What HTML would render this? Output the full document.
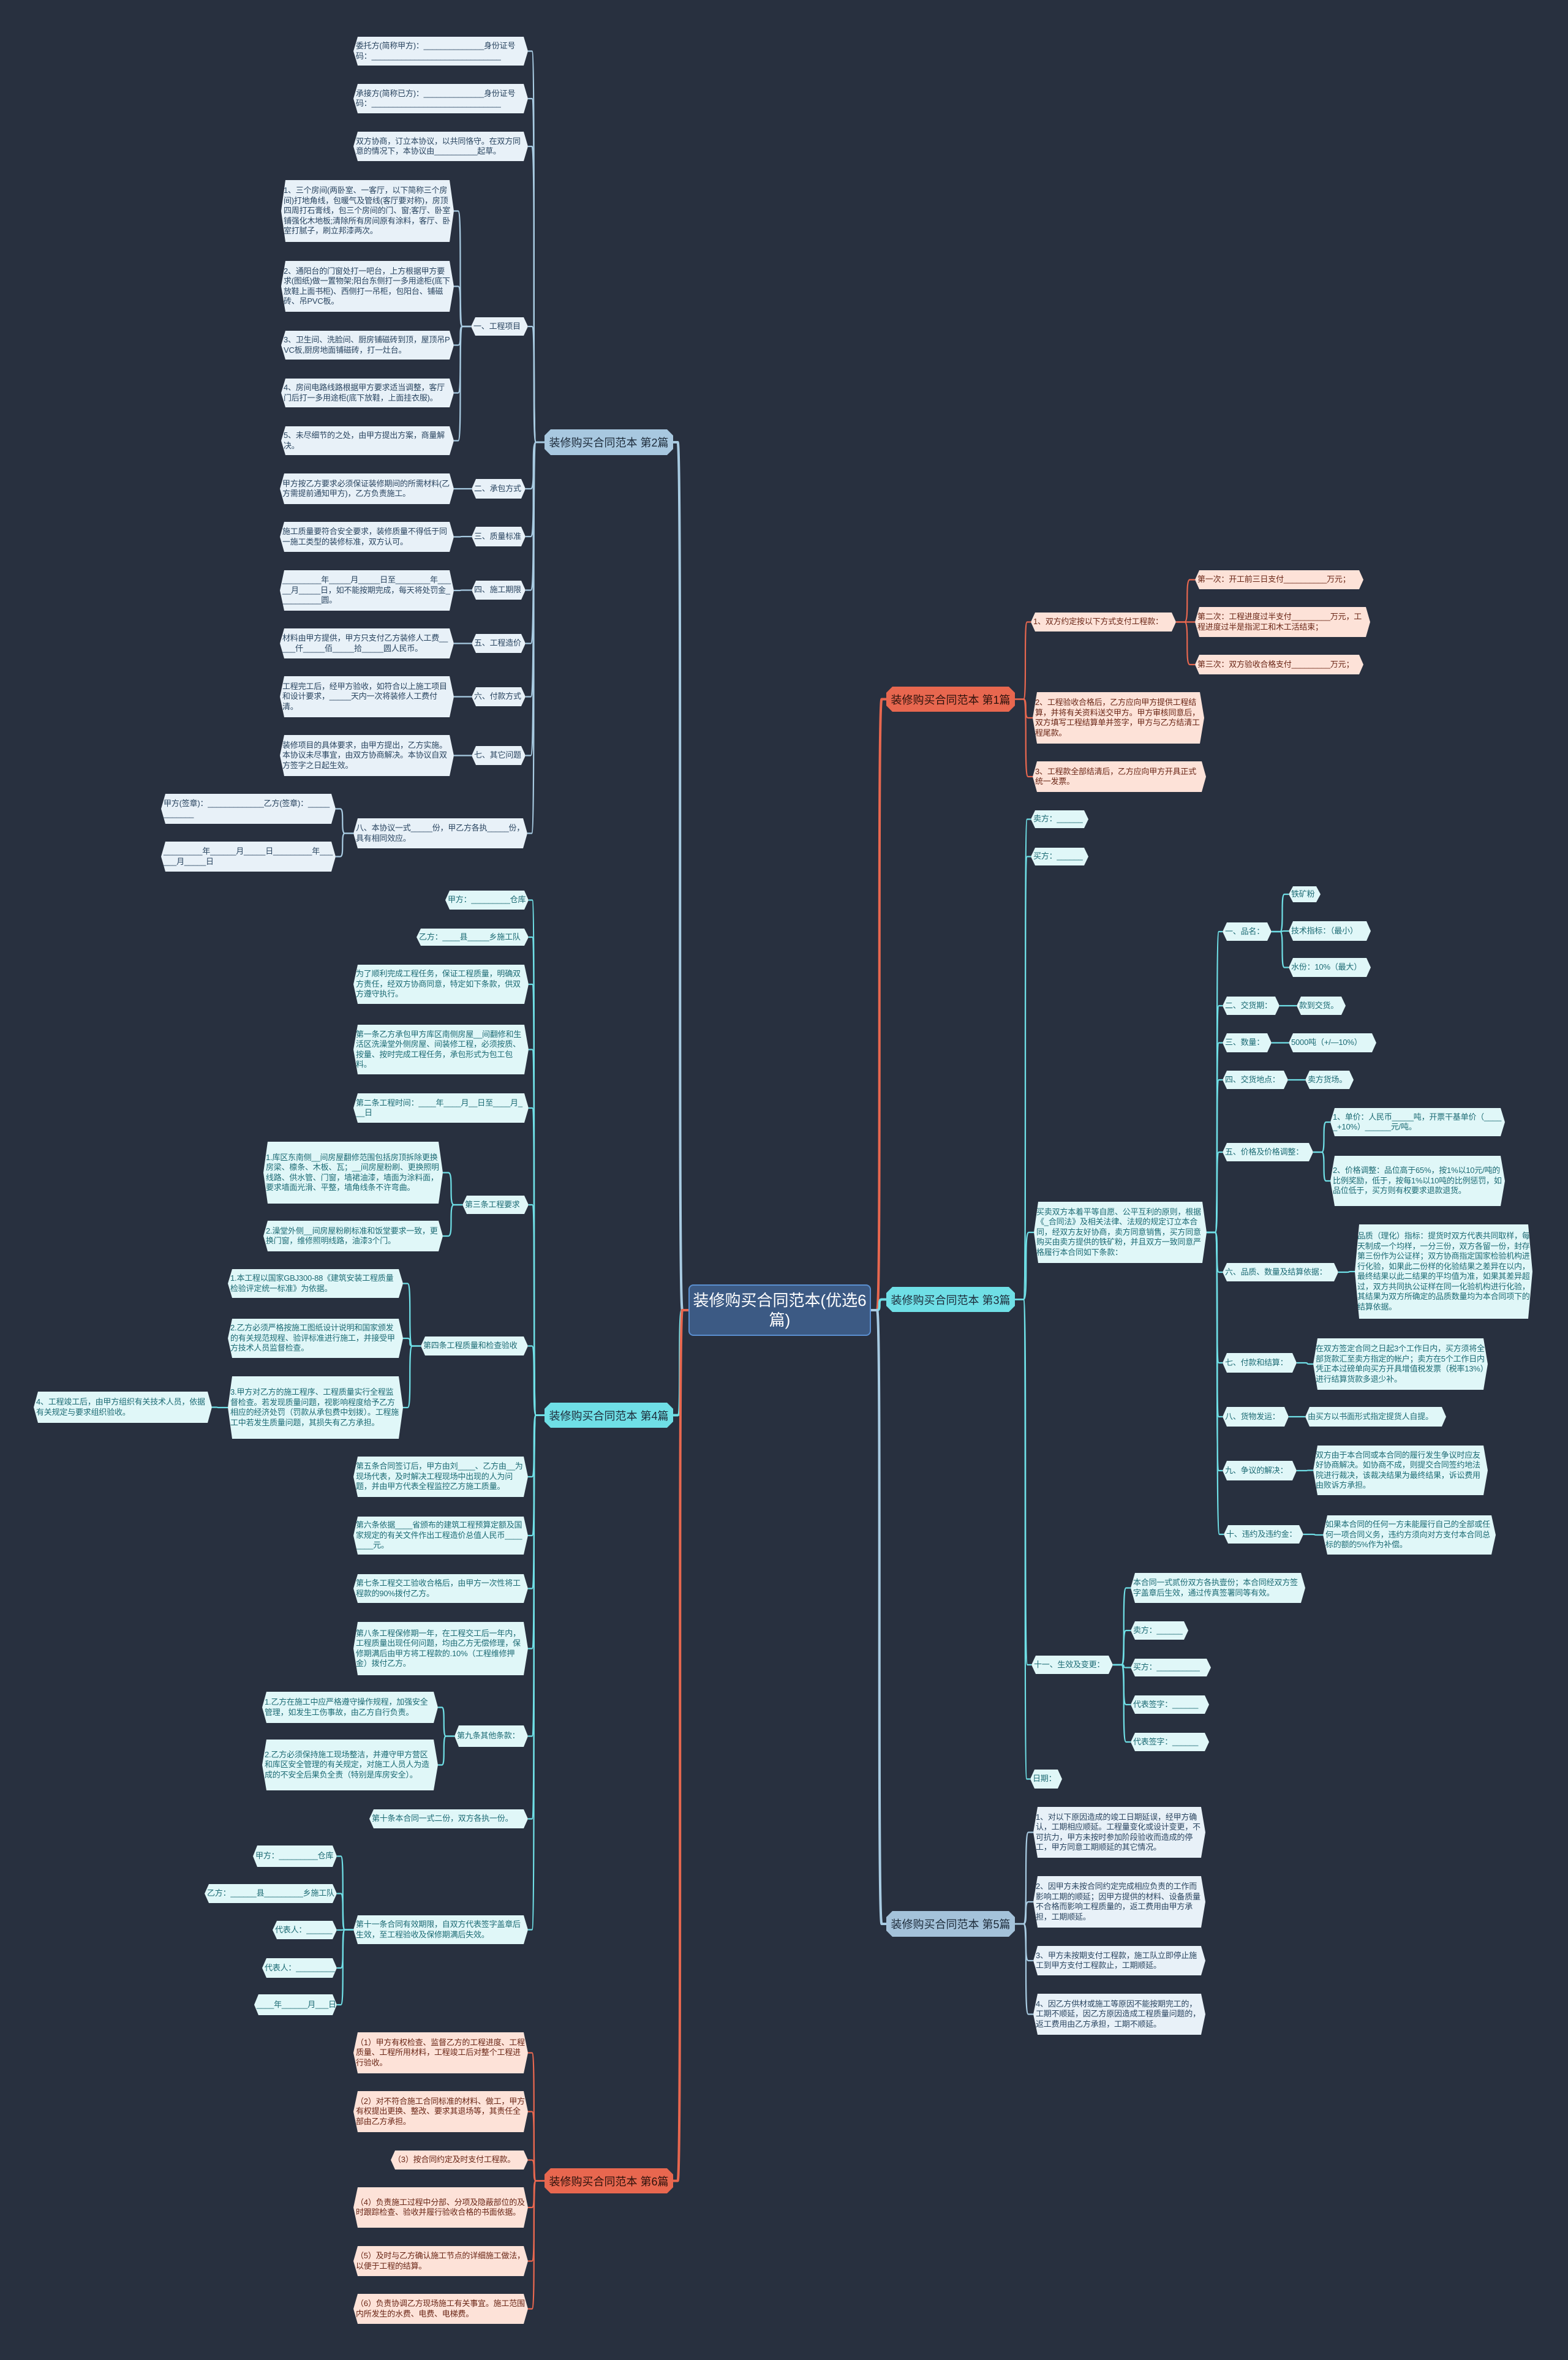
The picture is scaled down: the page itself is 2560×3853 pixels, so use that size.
<!DOCTYPE html>
<html><head><meta charset="utf-8">
<style>
html,body{margin:0;padding:0;}
body{width:2560px;height:3853px;background:#28303f;position:relative;overflow:hidden;font-family:"Liberation Sans","Noto Sans CJK SC",sans-serif;}
svg#lines{position:absolute;left:0;top:0;}
.n{position:absolute;box-sizing:border-box;display:flex;align-items:center;padding:0 4px;font-size:13px;line-height:16.5px;letter-spacing:-0.2px;word-break:break-all;
clip-path:polygon(7px 0,calc(100% - 7px) 0,100% 50%,calc(100% - 7px) 100%,7px 100%,0 50%);}
.cb{background:#e8f1f8;color:#2a4560;}
.cc{background:#e0f7f8;color:#1d6b74;}
.cr{background:#fde2d8;color:#6a2616;}
.br{position:absolute;box-sizing:border-box;display:flex;align-items:center;justify-content:center;font-size:18px;color:#1d2b3a;white-space:nowrap;
clip-path:polygon(10px 0,calc(100% - 10px) 0,100% 10px,100% calc(100% - 10px),calc(100% - 10px) 100%,10px 100%,0 calc(100% - 10px),0 10px);}
.bB{background:#a8c8e0;}
.bC{background:#6fdfe6;}
.bR{background:#e8674f;color:#2d120c;}
.bP{background:#a4c2da;}
#center{position:absolute;left:1124px;top:2097px;width:298px;height:84px;background:#3c5a84;border:2px solid #5a8fd0;box-sizing:border-box;color:#fff;font-size:26px;line-height:32px;text-align:center;display:flex;align-items:center;justify-content:center;border-radius:8px;}
</style></head><body>
<svg id="lines" width="2560" height="3853"></svg>

<div id="center">装修购买合同范本(优选6<br>篇)</div>

<div class="br bR" id="b1" style="left:1447px;top:1121px;width:210px;height:41px;">装修购买合同范本 第1篇</div>
<div class="br bB" id="b2" style="left:889px;top:701px;width:210px;height:42px;">装修购买合同范本 第2篇</div>
<div class="br bC" id="b3" style="left:1447px;top:2101px;width:210px;height:41px;">装修购买合同范本 第3篇</div>
<div class="br bC" id="b4" style="left:889px;top:2290px;width:210px;height:41px;">装修购买合同范本 第4篇</div>
<div class="br bP" id="b5" style="left:1447px;top:3120px;width:210px;height:42px;">装修购买合同范本 第5篇</div>
<div class="br bR" id="b6" style="left:889px;top:3540px;width:210px;height:41px;">装修购买合同范本 第6篇</div>

<div class="n cr" id="m1" style="left:1683px;top:1000px;width:237px;height:31px;">1、双方约定按以下方式支付工程款：</div>
<div class="n cr" id="p1" style="left:1951px;top:931px;width:275px;height:31px;">第一次：开工前三日支付__________万元；</div>
<div class="n cr" id="p2" style="left:1951px;top:991px;width:286px;height:49px;">第二次：工程进度过半支付_________万元，工程进度过半是指泥工和木工活结束；</div>
<div class="n cr" id="p3" style="left:1951px;top:1069px;width:275px;height:32px;">第三次：双方验收合格支付_________万元；</div>
<div class="n cr" id="m2" style="left:1686px;top:1130px;width:280px;height:84px;">2、工程验收合格后，乙方应向甲方提供工程结算，并将有关资料送交甲方。甲方审核同意后，双方填写工程结算单并签字，甲方与乙方结清工程尾款。</div>
<div class="n cr" id="m3" style="left:1686px;top:1243px;width:283px;height:50px;">3、工程款全部结清后，乙方应向甲方开具正式统一发票。</div>

<div class="n cb" id="a1" style="left:577px;top:60px;width:285px;height:47px;">委托方(简称甲方)：______________身份证号码：______________________________</div>
<div class="n cb" id="a2" style="left:577px;top:137px;width:285px;height:48px;">承接方(简称已方)：______________身份证号码：______________________________</div>
<div class="n cb" id="a3" style="left:577px;top:215px;width:285px;height:48px;">双方协商，订立本协议，以共同恪守。在双方同意的情况下，本协议由__________起草。</div>
<div class="n cb" id="a4" style="left:769px;top:518px;width:93px;height:30px;">一、工程项目</div>
<div class="n cb" id="d1" style="left:459px;top:294px;width:282px;height:101px;">1、三个房间(两卧室、一客厅，以下简称三个房间)打地角线，包暖气及管线(客厅要对称)，房顶四周打石膏线，包三个房间的门、窗;客厅、卧室铺强化木地板;清除所有房间原有涂料，客厅、卧室打腻子，刷立邦漆两次。</div>
<div class="n cb" id="d2" style="left:459px;top:426px;width:282px;height:83px;">2、通阳台的门窗处打一吧台，上方根据甲方要求(图纸)做一置物架;阳台东侧打一多用途柜(底下放鞋上面书柜)、西侧打一吊柜，包阳台、铺磁砖、吊PVC板。</div>
<div class="n cb" id="d3" style="left:459px;top:540px;width:282px;height:47px;">3、卫生间、洗脸间、厨房铺磁砖到顶，屋顶吊PVC板,厨房地面铺磁砖，打一灶台。</div>
<div class="n cb" id="d4" style="left:459px;top:618px;width:282px;height:47px;">4、房间电路线路根据甲方要求适当调整，客厅门后打一多用途柜(底下放鞋，上面挂衣服)。</div>
<div class="n cb" id="d5" style="left:459px;top:696px;width:282px;height:47px;">5、未尽细节的之处，由甲方提出方案，商量解决。</div>
<div class="n cb" id="a5" style="left:770px;top:782px;width:88px;height:32px;">二、承包方式</div>
<div class="n cb" id="e1" style="left:457px;top:773px;width:284px;height:50px;">甲方按乙方要求必须保证装修期间的所需材料(乙方需提前通知甲方)，乙方负责施工。</div>
<div class="n cb" id="a6" style="left:770px;top:860px;width:88px;height:32px;">三、质量标准</div>
<div class="n cb" id="f1" style="left:457px;top:852px;width:284px;height:49px;">施工质量要符合安全要求，装修质量不得低于同一施工类型的装修标准，双方认可。</div>
<div class="n cb" id="a7" style="left:770px;top:948px;width:88px;height:31px;">四、施工期限</div>
<div class="n cb" id="g1" style="left:457px;top:931px;width:284px;height:66px;">_________年_____月_____日至________年_____月_____日，如不能按期完成，每天将处罚金__________圆。</div>
<div class="n cb" id="a8" style="left:770px;top:1035px;width:88px;height:31px;">五、工程造价</div>
<div class="n cb" id="h1" style="left:457px;top:1026px;width:284px;height:49px;">材料由甲方提供，甲方只支付乙方装修人工费_____仟_____佰_____拾_____圆人民币。</div>
<div class="n cb" id="a9" style="left:770px;top:1122px;width:88px;height:31px;">六、付款方式</div>
<div class="n cb" id="i1" style="left:457px;top:1104px;width:284px;height:67px;">工程完工后，经甲方验收，如符合以上施工项目和设计要求，_____天内一次将装修人工费付清。</div>
<div class="n cb" id="a10" style="left:770px;top:1218px;width:88px;height:31px;">七、其它问题</div>
<div class="n cb" id="j1" style="left:457px;top:1200px;width:284px;height:67px;">装修项目的具体要求，由甲方提出，乙方实施。本协议未尽事宜，由双方协商解决。本协议自双方签字之日起生效。</div>
<div class="n cb" id="a11" style="left:577px;top:1336px;width:284px;height:49px;">八、本协议一式_____份，甲乙方各执_____份，具有相同效应。</div>
<div class="n cb" id="k1" style="left:263px;top:1296px;width:285px;height:49px;">甲方(签章)：_____________乙方(签章)：____________</div>
<div class="n cb" id="k2" style="left:263px;top:1374px;width:285px;height:49px;">_________年______月_____日_________年______月_____日</div>

<div class="n cc" id="s1" style="left:1683px;top:1323px;width:94px;height:29px;">卖方：______</div>
<div class="n cc" id="s2" style="left:1683px;top:1384px;width:94px;height:29px;">买方：______</div>
<div class="n cc" id="intro" style="left:1688px;top:1962px;width:282px;height:100px;">买卖双方本着平等自愿、公平互利的原则，根据《_合同法》及相关法律、法规的规定订立本合同，经双方友好协商，卖方同意销售，买方同意购买由卖方提供的铁矿粉，并且双方一致同意严格履行本合同如下条款：</div>
<div class="n cc" id="q1" style="left:1996px;top:1506px;width:80px;height:30px;">一、品名：</div>
<div class="n cc" id="q1a" style="left:2104px;top:1447px;width:52px;height:26px;">铁矿粉</div>
<div class="n cc" id="q1b" style="left:2104px;top:1504px;width:134px;height:32px;">技术指标：（最小）</div>
<div class="n cc" id="q1c" style="left:2104px;top:1564px;width:134px;height:31px;">水份：10%（最大）</div>
<div class="n cc" id="q2" style="left:1996px;top:1627px;width:93px;height:30px;">二、交货期：</div>
<div class="n cc" id="q2a" style="left:2117px;top:1627px;width:80px;height:30px;">款到交货。</div>
<div class="n cc" id="q3" style="left:1996px;top:1687px;width:80px;height:31px;">三、数量：</div>
<div class="n cc" id="q3a" style="left:2104px;top:1687px;width:143px;height:31px;">5000吨（+/—10%）</div>
<div class="n cc" id="q4" style="left:1996px;top:1748px;width:107px;height:30px;">四、交货地点：</div>
<div class="n cc" id="q4a" style="left:2131px;top:1748px;width:79px;height:30px;">卖方货场。</div>
<div class="n cc" id="q5" style="left:1996px;top:1866px;width:148px;height:30px;">五、价格及价格调整：</div>
<div class="n cc" id="q5a" style="left:2172px;top:1809px;width:285px;height:46px;">1、单价：人民币_____吨，开票干基单价（_____+10%）______元/吨。</div>
<div class="n cc" id="q5b" style="left:2172px;top:1887px;width:285px;height:82px;">2、价格调整：品位高于65%，按1%以10元/吨的比例奖励，低于，按每1%以10吨的比例惩罚，如品位低于，买方则有权要求退款退货。</div>
<div class="n cc" id="q6" style="left:1996px;top:2062px;width:189px;height:30px;">六、品质、数量及结算依据：</div>
<div class="n cc" id="q6a" style="left:2212px;top:1999px;width:290px;height:154px;">品质（理化）指标：提货时双方代表共同取样，每天制成一个均样，一分三份，双方各留一份，封存第三份作为公证样；双方协商指定国家检验机构进行化验，如果此二份样的化验结果之差异在以内，最终结果以此二结果的平均值为准，如果其差异超过，双方共同执公证样在同一化验机构进行化验，其结果为双方所确定的品质数量均为本合同项下的结算依据。</div>
<div class="n cc" id="q7" style="left:1996px;top:2209px;width:121px;height:32px;">七、付款和结算：</div>
<div class="n cc" id="q7a" style="left:2144px;top:2185px;width:285px;height:84px;">在双方签定合同之日起3个工作日内，买方须将全部货款汇至卖方指定的帐户；卖方在5个工作日内凭正本过磅单向买方开具增值税发票（税率13%）进行结算货款多退少补。</div>
<div class="n cc" id="q8" style="left:1996px;top:2297px;width:108px;height:32px;">八、货物发运：</div>
<div class="n cc" id="q8a" style="left:2131px;top:2297px;width:230px;height:32px;">由买方以书面形式指定提货人自提。</div>
<div class="n cc" id="q9" style="left:1996px;top:2385px;width:121px;height:32px;">九、争议的解决：</div>
<div class="n cc" id="q9a" style="left:2144px;top:2360px;width:285px;height:81px;">双方由于本合同或本合同的履行发生争议时应友好协商解决。如协商不成，则提交合同签约地法院进行裁决，该裁决结果为最终结果，诉讼费用由败诉方承担。</div>
<div class="n cc" id="q10" style="left:1998px;top:2490px;width:130px;height:30px;">十、违约及违约金：</div>
<div class="n cc" id="q10a" style="left:2160px;top:2474px;width:282px;height:64px;">如果本合同的任何一方未能履行自己的全部或任何一项合同义务，违约方须向对方支付本合同总标的额的5%作为补偿。</div>
<div class="n cc" id="s11" style="left:1684px;top:2703px;width:133px;height:30px;">十一、生效及变更：</div>
<div class="n cc" id="s11a" style="left:1846px;top:2568px;width:285px;height:49px;">本合同一式贰份双方各执壹份；本合同经双方签字盖章后生效，通过传真签署同等有效。</div>
<div class="n cc" id="s11b" style="left:1846px;top:2647px;width:94px;height:30px;">卖方：______</div>
<div class="n cc" id="s11c" style="left:1846px;top:2708px;width:131px;height:29px;">买方：__________</div>
<div class="n cc" id="s11d" style="left:1846px;top:2768px;width:128px;height:30px;">代表签字：______</div>
<div class="n cc" id="s11e" style="left:1846px;top:2829px;width:128px;height:30px;">代表签字：______</div>
<div class="n cc" id="s12" style="left:1682px;top:2889px;width:52px;height:31px;">日期：</div>

<div class="n cc" id="t1" style="left:727px;top:1454px;width:136px;height:31px;">甲方：_________仓库</div>
<div class="n cc" id="t2" style="left:680px;top:1516px;width:183px;height:28px;">乙方：____县_____乡施工队</div>
<div class="n cc" id="t3" style="left:577px;top:1575px;width:286px;height:64px;">为了顺利完成工程任务，保证工程质量，明确双方责任，经双方协商同意，特定如下条款，供双方遵守执行。</div>
<div class="n cc" id="t4" style="left:577px;top:1673px;width:286px;height:81px;">第一条乙方承包甲方库区南侧房屋__间翻修和生活区洗澡堂外侧房屋、间装修工程，必须按质、按量、按时完成工程任务，承包形式为包工包料。</div>
<div class="n cc" id="t5" style="left:577px;top:1785px;width:286px;height:48px;">第二条工程时间：____年____月__日至____月___日</div>
<div class="n cc" id="t6" style="left:755px;top:1952px;width:108px;height:30px;">第三条工程要求</div>
<div class="n cc" id="t6a" style="left:430px;top:1864px;width:293px;height:101px;">1.库区东南侧__间房屋翻修范围包括房顶拆除更换房梁、檩条、木板、瓦；__间房屋粉刷、更换照明线路、供水管、门窗，墙裙油漆，墙面为涂料面，要求墙面光滑、平整，墙角线条不许弯曲。</div>
<div class="n cc" id="t6b" style="left:430px;top:1993px;width:293px;height:50px;">2.澡堂外侧__间房屋粉刷标准和饭堂要求一致，更换门窗，维修照明线路，油漆3个门。</div>
<div class="n cc" id="t7" style="left:687px;top:2182px;width:175px;height:31px;">第四条工程质量和检查验收</div>
<div class="n cc" id="t7a" style="left:372px;top:2072px;width:286px;height:47px;">1.本工程以国家GBJ300-88《建筑安装工程质量检验评定统一标准》为依据。</div>
<div class="n cc" id="t7b" style="left:372px;top:2153px;width:286px;height:64px;">2.乙方必须严格按施工图纸设计说明和国家颁发的有关规范规程、验评标准进行施工，并接受甲方技术人员监督检查。</div>
<div class="n cc" id="t7c" style="left:372px;top:2247px;width:286px;height:102px;">3.甲方对乙方的施工程序、工程质量实行全程监督检查。若发现质量问题，视影响程度给予乙方相应的经济处罚（罚款从承包费中划拨）。工程施工中若发生质量问题，其损失有乙方承担。</div>
<div class="n cc" id="t7d" style="left:55px;top:2272px;width:291px;height:51px;">4、工程竣工后，由甲方组织有关技术人员，依据有关规定与要求组织验收。</div>
<div class="n cc" id="t8" style="left:577px;top:2378px;width:285px;height:66px;">第五条合同签订后，甲方由刘____、乙方由__为现场代表，及时解决工程现场中出现的人为问题，并由甲方代表全程监控乙方施工质量。</div>
<div class="n cc" id="t9" style="left:577px;top:2476px;width:285px;height:62px;">第六条依据____省颁布的建筑工程预算定额及国家规定的有关文件作出工程造价总值人民币________元。</div>
<div class="n cc" id="t10" style="left:577px;top:2570px;width:285px;height:47px;">第七条工程交工验收合格后，由甲方一次性将工程款的90%拨付乙方。</div>
<div class="n cc" id="t11" style="left:577px;top:2648px;width:285px;height:87px;">第八条工程保修期一年，在工程交工后一年内，工程质量出现任何问题，均由乙方无偿修理，保修期满后由甲方将工程款的.10%（工程维修押金）拨付乙方。</div>
<div class="n cc" id="t12" style="left:742px;top:2817px;width:120px;height:35px;">第九条其他条款：</div>
<div class="n cc" id="t12a" style="left:428px;top:2762px;width:287px;height:51px;">1.乙方在施工中应严格遵守操作规程，加强安全管理，如发生工伤事故，由乙方自行负责。</div>
<div class="n cc" id="t12b" style="left:428px;top:2840px;width:287px;height:83px;">2.乙方必须保持施工现场整洁，并遵守甲方营区和库区安全管理的有关规定，对施工人员人为造成的不安全后果负全责（特别是库房安全）。</div>
<div class="n cc" id="t13" style="left:603px;top:2954px;width:259px;height:31px;">第十条本合同一式二份，双方各执一份。</div>
<div class="n cc" id="t14" style="left:577px;top:3127px;width:285px;height:47px;">第十一条合同有效期限，自双方代表签字盖章后生效，至工程验收及保修期满后失效。</div>
<div class="n cc" id="t14a" style="left:413px;top:3013px;width:137px;height:35px;">甲方：_________仓库</div>
<div class="n cc" id="t14b" style="left:334px;top:3076px;width:216px;height:31px;">乙方：______县_________乡施工队</div>
<div class="n cc" id="t14c" style="left:445px;top:3136px;width:105px;height:30px;">代表人：______</div>
<div class="n cc" id="t14d" style="left:428px;top:3197px;width:122px;height:32px;">代表人：_________</div>
<div class="n cc" id="t14e" style="left:415px;top:3256px;width:135px;height:34px;">____年______月___日</div>

<div class="n cb" id="u1" style="left:1687px;top:2950px;width:281px;height:83px;">1、对以下原因造成的竣工日期延误，经甲方确认，工期相应顺延。工程量变化或设计变更，不可抗力，甲方未按时参加阶段验收而造成的停工，甲方同意工期顺延的其它情况。</div>
<div class="n cb" id="u2" style="left:1687px;top:3063px;width:281px;height:84px;">2、因甲方未按合同约定完成相应负责的工作而影响工期的顺延；因甲方提供的材料、设备质量不合格而影响工程质量的，返工费用由甲方承担，工期顺延。</div>
<div class="n cb" id="u3" style="left:1687px;top:3177px;width:281px;height:48px;">3、甲方未按期支付工程款，施工队立即停止施工到甲方支付工程款止，工期顺延。</div>
<div class="n cb" id="u4" style="left:1687px;top:3255px;width:281px;height:67px;">4、因乙方供材或施工等原因不能按期完工的，工期不顺延，因乙方原因造成工程质量问题的，返工费用由乙方承担，工期不顺延。</div>

<div class="n cr" id="v1" style="left:577px;top:3318px;width:285px;height:67px;">（1）甲方有权检查、监督乙方的工程进度、工程质量、工程所用材料，工程竣工后对整个工程进行验收。</div>
<div class="n cr" id="v2" style="left:577px;top:3414px;width:285px;height:67px;">（2）对不符合施工合同标准的材料、做工，甲方有权提出更换、整改、要求其退场等，其责任全部由乙方承担。</div>
<div class="n cr" id="v3" style="left:638px;top:3511px;width:224px;height:31px;">（3）按合同约定及时支付工程款。</div>
<div class="n cr" id="v4" style="left:577px;top:3571px;width:285px;height:66px;">（4）负责施工过程中分部、分项及隐蔽部位的及时跟踪检查、验收并履行验收合格的书面依据。</div>
<div class="n cr" id="v5" style="left:577px;top:3667px;width:285px;height:49px;">（5）及时与乙方确认施工节点的详细施工做法，以便于工程的结算。</div>
<div class="n cr" id="v6" style="left:577px;top:3745px;width:285px;height:49px;">（6）负责协调乙方现场施工有关事宜。施工范围内所发生的水费、电费、电梯费。</div>

<script>
(function(){
var ns=document.querySelectorAll('.n');
for(var i=0;i<ns.length;i++){if(ns[i].offsetHeight<=36){ns[i].style.whiteSpace='nowrap';}}
var B='#a8cbe2',C='#6fdfe6',R='#e8674f';
var P=[
['b1','center',R,4],['b2','center',B,4],['b3','center',C,4],['b4','center',C,4],['b5','center',B,4],['b6','center',R,4],
['m1','b1',R],['m2','b1',R],['m3','b1',R],['p1','m1',R],['p2','m1',R],['p3','m1',R],
['a1','b2',B],['a2','b2',B],['a3','b2',B],['a4','b2',B],['a5','b2',B],['a6','b2',B],['a7','b2',B],['a8','b2',B],['a9','b2',B],['a10','b2',B],['a11','b2',B],
['d1','a4',B],['d2','a4',B],['d3','a4',B],['d4','a4',B],['d5','a4',B],
['e1','a5',B],['f1','a6',B],['g1','a7',B],['h1','a8',B],['i1','a9',B],['j1','a10',B],['k1','a11',B],['k2','a11',B],
['s1','b3',C],['s2','b3',C],['intro','b3',C],['s11','b3',C],['s12','b3',C],
['q1','intro',C],['q2','intro',C],['q3','intro',C],['q4','intro',C],['q5','intro',C],['q6','intro',C],['q7','intro',C],['q8','intro',C],['q9','intro',C],['q10','intro',C],
['q1a','q1',C],['q1b','q1',C],['q1c','q1',C],['q2a','q2',C],['q3a','q3',C],['q4a','q4',C],['q5a','q5',C],['q5b','q5',C],['q6a','q6',C],['q7a','q7',C],['q8a','q8',C],['q9a','q9',C],['q10a','q10',C],
['s11a','s11',C],['s11b','s11',C],['s11c','s11',C],['s11d','s11',C],['s11e','s11',C],
['t1','b4',C],['t2','b4',C],['t3','b4',C],['t4','b4',C],['t5','b4',C],['t6','b4',C],['t7','b4',C],['t8','b4',C],['t9','b4',C],['t10','b4',C],['t11','b4',C],['t12','b4',C],['t13','b4',C],['t14','b4',C],
['t6a','t6',C],['t6b','t6',C],['t7a','t7',C],['t7b','t7',C],['t7c','t7',C],['t7d','t7c',C],['t12a','t12',C],['t12b','t12',C],
['t14a','t14',C],['t14b','t14',C],['t14c','t14',C],['t14d','t14',C],['t14e','t14',C],
['u1','b5',B],['u2','b5',B],['u3','b5',B],['u4','b5',B],
['v1','b6',R],['v2','b6',R],['v3','b6',R],['v4','b6',R],['v5','b6',R],['v6','b6',R]
];
function r(id){var e=document.getElementById(id);return {x:e.offsetLeft,y:e.offsetTop,w:e.offsetWidth,h:e.offsetHeight};}
var s='';
P.forEach(function(p){
 var c=r(p[0]),q=r(p[1]),w=p[3]||2.2;
 var right=c.x>q.x+q.w/2;
 var px=right?q.x+q.w:q.x, py=q.y+q.h/2;
 var cx=right?c.x:c.x+c.w, cy=c.y+c.h/2;
 var d=right?1:-1;
 var jx=px+d*(p[3]?10:14);
 var mx=jx+d*Math.min(10,Math.abs(cx-jx)/2);
 s+='<path d="M'+px+' '+py+' L'+jx+' '+py+' C'+mx+' '+py+' '+jx+' '+cy+' '+mx+' '+cy+' L'+cx+' '+cy+'" fill="none" stroke="'+p[2]+'" stroke-width="'+w+'"/>';
});
document.getElementById('lines').innerHTML=s;
})();
</script>
</body></html>
